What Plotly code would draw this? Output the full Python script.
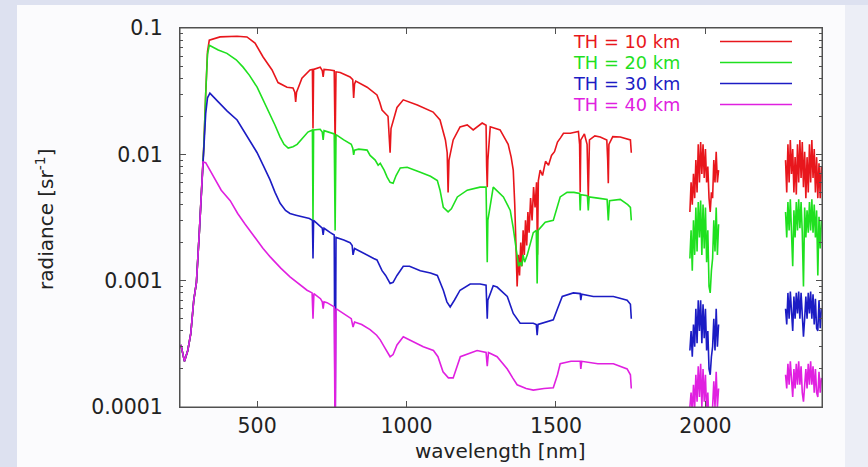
import plotly.graph_objects as go

# ---------------- data ----------------
# main segment, 10 km
red_wl = [245, 257, 268, 278, 288, 297, 307, 317, 322, 328, 334, 340, 376, 433, 466, 493, 520, 550, 570, 600,
          620, 626, 629, 632, 650, 677, 685, 687, 689, 711, 718, 721, 724, 744, 758, 761, 764, 778, 811, 820,
          823, 826, 830, 868, 901, 910, 918, 938, 942, 945, 948, 968, 989, 1036, 1089, 1112, 1130, 1136, 1139, 1142,
          1156, 1179, 1203, 1223, 1253, 1266, 1268, 1270, 1272, 1280, 1313, 1340, 1350, 1357, 1362, 1366, 1370, 1374, 1378, 1382,
          1386, 1390, 1394, 1398, 1402, 1406, 1410, 1415, 1420, 1425, 1430, 1435, 1438, 1441, 1447, 1455, 1465, 1475, 1485, 1495,
          1505, 1515, 1525, 1548, 1575, 1579, 1581, 1583, 1595, 1604, 1608, 1612, 1630, 1648, 1670, 1673, 1675, 1677, 1690, 1715,
          1740, 1749, 1752]
red_val = [0.00031, 0.00023, 0.00028, 0.00038, 0.0007, 0.00097, 0.0025, 0.0072, 0.012, 0.03, 0.065, 0.08, 0.085, 0.086, 0.085, 0.076, 0.059, 0.0465, 0.037, 0.034,
           0.0335, 0.031, 0.026, 0.031, 0.04, 0.0465, 0.047, 0.016, 0.047, 0.049, 0.046, 0.041, 0.047, 0.0465, 0.046, 0.012, 0.045, 0.0445, 0.041, 0.039,
           0.028, 0.036, 0.038, 0.034, 0.0295, 0.026, 0.0224, 0.02, 0.014, 0.0103, 0.016, 0.0235, 0.027, 0.0246, 0.0216, 0.0187, 0.013, 0.0103, 0.005, 0.009,
           0.013, 0.0165, 0.0171, 0.0156, 0.0177, 0.017, 0.008, 0.0055, 0.009, 0.0165, 0.0156, 0.012, 0.0095, 0.0075, 0.004, 0.0018, 0.0009, 0.0016, 0.0011, 0.002,
           0.0013, 0.0025, 0.0016, 0.003, 0.0019, 0.0035, 0.0024, 0.0045, 0.003, 0.0055, 0.0038, 0.006, 0.0016, 0.0062, 0.0075, 0.0068, 0.0088, 0.0082, 0.0098, 0.0105,
           0.0125, 0.0135, 0.0147, 0.0147, 0.0152, 0.012, 0.005, 0.013, 0.0145, 0.012, 0.0046, 0.013, 0.014, 0.0137, 0.013, 0.009, 0.0059, 0.012, 0.0138, 0.0137,
           0.0133, 0.013, 0.0103]

# main segment, 20 km
green_wl = [245, 257, 268, 278, 288, 297, 307, 317, 322, 328, 334, 340, 370, 399, 430, 453, 475, 500, 520, 543,
            560, 577, 590, 604, 620, 634, 654, 670, 685, 687, 689, 711, 718, 721, 724, 740, 758, 761, 764, 790,
            815, 820, 823, 826, 840, 868, 878, 895, 905, 912, 925, 935, 945, 955, 965, 979, 1002, 1046, 1080, 1103,
            1112, 1123, 1139, 1150, 1170, 1203, 1246, 1266, 1268, 1270, 1272, 1290, 1324, 1347, 1357, 1365, 1370, 1375, 1380, 1385,
            1390, 1395, 1404, 1412, 1418, 1424, 1434, 1437, 1440, 1464, 1491, 1505, 1514, 1537, 1560, 1579, 1581, 1583, 1605, 1608,
            1611, 1640, 1671, 1675, 1679, 1715, 1740, 1749, 1752]
green_val = [0.00031, 0.00023, 0.00028, 0.00038, 0.0007, 0.00097, 0.0025, 0.0072, 0.012, 0.03, 0.062, 0.073, 0.067, 0.063, 0.056, 0.049, 0.042, 0.034, 0.027, 0.021,
             0.017, 0.0137, 0.012, 0.0112, 0.0115, 0.012, 0.0137, 0.015, 0.0156, 0.003, 0.0156, 0.0158, 0.015, 0.013, 0.0154, 0.015, 0.0145, 0.0025, 0.0143, 0.013,
             0.012, 0.0112, 0.0099, 0.0108, 0.011, 0.0108, 0.0098, 0.009, 0.0082, 0.0085, 0.0075, 0.0066, 0.006, 0.0059, 0.0068, 0.0078, 0.0079, 0.0072, 0.0067, 0.0062,
             0.0052, 0.0038, 0.0035, 0.0037, 0.0046, 0.0052, 0.0055, 0.0055, 0.003, 0.0014, 0.003, 0.0055, 0.0046, 0.0036, 0.0026, 0.0019, 0.0016, 0.0013, 0.0014, 0.0013,
             0.0016, 0.0014, 0.0016, 0.0019, 0.0022, 0.0024, 0.0025, 0.00095, 0.0025, 0.0029, 0.003, 0.0038, 0.0046, 0.005, 0.005, 0.0049, 0.0036, 0.0048, 0.0047, 0.0036,
             0.0046, 0.0045, 0.0044, 0.003, 0.0043, 0.0044, 0.004, 0.0038, 0.003]

# main segment, 30 km
blue_wl = [245, 257, 268, 278, 288, 297, 307, 317, 322, 328, 334, 342, 370, 400, 433, 465, 500, 520, 543, 560,
           577, 595, 610, 630, 654, 675, 685, 687, 689, 711, 718, 721, 724, 745, 758, 761, 764, 790, 811, 818,
           821, 826, 845, 868, 890, 901, 912, 918, 930, 945, 955, 968, 989, 1010, 1046, 1080, 1103, 1115, 1123, 1135,
           1146, 1160, 1179, 1213, 1246, 1266, 1268, 1270, 1272, 1290, 1303, 1337, 1357, 1380, 1400, 1424, 1434, 1437, 1440, 1471,
           1491, 1505, 1521, 1558, 1581, 1583, 1586, 1625, 1660, 1692, 1720, 1738, 1749, 1752]
blue_val = [0.00031, 0.00023, 0.00028, 0.00038, 0.0007, 0.00097, 0.0025, 0.0072, 0.012, 0.021, 0.028, 0.0305, 0.026, 0.022, 0.0187, 0.014, 0.0103, 0.0082, 0.0063, 0.005,
            0.0041, 0.0036, 0.0034, 0.0033, 0.0032, 0.0031, 0.003, 0.0015, 0.003, 0.0027, 0.0026, 0.0023, 0.0026, 0.0024, 0.0023, 0.00005, 0.0022, 0.0021, 0.002, 0.0019,
            0.0016, 0.0018, 0.0017, 0.0016, 0.0015, 0.00146, 0.0013, 0.0012, 0.0011, 0.00095, 0.00097, 0.0011, 0.0013, 0.0013, 0.0012, 0.00115, 0.0011, 0.00095, 0.00084, 0.00068,
            0.00062, 0.0007, 0.00084, 0.00094, 0.00094, 0.00092, 0.0007, 0.0005, 0.0007, 0.00091, 0.00089, 0.00075, 0.00055, 0.00046, 0.00046, 0.00046, 0.00045, 0.00037, 0.00045, 0.00047,
            0.00049, 0.0006, 0.00075, 0.0008, 0.00079, 0.0007, 0.00078, 0.00075, 0.00075, 0.00075, 0.00072, 0.0007, 0.00065, 0.0005]

# main segment, 40 km
mag_wl = [245, 257, 268, 278, 288, 297, 307, 313, 319, 328, 340, 360, 380, 410, 435, 460, 480, 500, 520, 543,
          560, 580, 610, 640, 667, 684, 687, 690, 712, 718, 721, 724, 734, 758, 761, 764, 788, 815, 821, 826,
          850, 878, 900, 912, 925, 945, 955, 968, 989, 1010, 1056, 1090, 1105, 1122, 1140, 1156, 1170, 1180, 1236, 1266,
          1270, 1274, 1303, 1337, 1355, 1370, 1400, 1424, 1460, 1491, 1505, 1514, 1550, 1581, 1583, 1586, 1640, 1692, 1738, 1749,
          1752]
mag_val = [0.00031, 0.00023, 0.00028, 0.00038, 0.0007, 0.00097, 0.0025, 0.0055, 0.0087, 0.0086, 0.0077, 0.0063, 0.0052, 0.0043, 0.0034, 0.0028, 0.0024, 0.0021, 0.0018, 0.00155,
           0.0014, 0.00125, 0.00107, 0.00095, 0.00084, 0.0008, 0.0005, 0.00079, 0.00072, 0.00068, 0.0006, 0.00068, 0.00067, 0.00062, 0.00005, 0.0006, 0.00055, 0.0005, 0.00043, 0.00047,
           0.00045, 0.00041, 0.00037, 0.00034, 0.0003, 0.00025, 0.00026, 0.00031, 0.00036, 0.00034, 0.0003, 0.00028, 0.00025, 0.00019, 0.00017, 0.00017, 0.00021, 0.00025, 0.00028, 0.00027,
           0.00021, 0.00027, 0.00025, 0.0002, 0.00017, 0.00015, 0.00014, 0.000136, 0.00014, 0.000142, 0.00018, 0.00022, 0.00023, 0.00023, 0.0002, 0.00023, 0.00022, 0.00022, 0.0002, 0.00018,
           0.00014]

# second segment (around 2000 nm)
seg2_wl = [1948, 1952, 1956, 1960, 1964, 1968, 1972, 1976, 1980, 1984, 1988, 1992, 1996, 2000, 2004, 2008, 2012, 2016, 2020, 2024,
           2028, 2032, 2036, 2040, 2044]
red_seg2 = [0.0035, 0.006, 0.004, 0.007, 0.0045, 0.009, 0.005, 0.012, 0.006, 0.0125, 0.007, 0.012, 0.0065, 0.011, 0.006, 0.008, 0.0045, 0.0035, 0.005, 0.0045,
            0.009, 0.006, 0.0105, 0.006, 0.0075]
green_seg2 = [0.0015, 0.0025, 0.0012, 0.003, 0.0016, 0.0038, 0.0017, 0.0042, 0.0022, 0.0043, 0.0016, 0.004, 0.0018, 0.0038, 0.0014, 0.0025, 0.0009, 0.0008, 0.0012, 0.0015,
              0.003, 0.0017, 0.0038, 0.0016, 0.0028]
blue_seg2 = [0.00028, 0.0004, 0.00025, 0.00045, 0.0003, 0.0006, 0.00032, 0.0007, 0.0004, 0.0007, 0.00032, 0.00065, 0.00035, 0.0006, 0.00028, 0.0004, 0.0002, 0.00018, 0.00025, 0.0003,
             0.0005, 0.00028, 0.0006, 0.0003, 0.00045]
mag_seg2 = [0.0001, 0.00013, 0.00009, 0.00015, 0.0001, 0.00018, 0.00011, 0.00021, 0.00012, 0.00022, 0.0001, 0.0002, 0.00011, 0.00018, 0.00009, 0.00013, 0.00007, 0.00006, 0.00008, 0.0001,
            0.00016, 0.0001, 0.00019, 0.0001, 0.00014]

# third segment (2270-2390 nm)
seg3_wl = [2268, 2272, 2276, 2280, 2284, 2288, 2292, 2296, 2300, 2304, 2308, 2312, 2316, 2320, 2324, 2328, 2332, 2336, 2340, 2344,
           2348, 2352, 2356, 2360, 2364, 2368, 2372, 2376, 2380, 2384, 2388]
red_seg3 = [0.009, 0.005, 0.012, 0.006, 0.013, 0.007, 0.011, 0.005, 0.0095, 0.0048, 0.012, 0.006, 0.013, 0.0065, 0.0125, 0.0055, 0.0105, 0.0045, 0.0095, 0.005,
            0.012, 0.006, 0.013, 0.0065, 0.011, 0.005, 0.0095, 0.0045, 0.0085, 0.0045, 0.008]
green_seg3 = [0.0035, 0.0022, 0.0042, 0.0025, 0.0044, 0.0026, 0.0013, 0.0036, 0.0022, 0.0042, 0.0025, 0.0044, 0.0026, 0.0042, 0.0024, 0.0009, 0.0038, 0.0022, 0.0036, 0.0024,
              0.0042, 0.0025, 0.0044, 0.0024, 0.004, 0.0022, 0.0036, 0.0011, 0.0032, 0.0018, 0.003]
blue_seg3 = [0.0006, 0.00045, 0.0008, 0.0005, 0.00082, 0.00055, 0.0004, 0.00075, 0.0005, 0.0008, 0.00055, 0.00082, 0.0005, 0.0008, 0.00045, 0.00036, 0.0005, 0.00075, 0.0005, 0.0008,
             0.00055, 0.00082, 0.0005, 0.00078, 0.00045, 0.00072, 0.00042, 0.0004, 0.0007, 0.00042, 0.0006]
mag_seg3 = [0.00018, 0.00014, 0.00022, 0.00015, 0.00023, 0.00016, 0.00012, 0.0002, 0.00014, 0.00022, 0.00015, 0.00023, 0.00015, 0.00021, 0.00013, 0.00011, 0.00014, 0.0002, 0.00014, 0.00022,
            0.00015, 0.00023, 0.00015, 0.00021, 0.00013, 0.0002, 0.00013, 0.00012, 0.00019, 0.00013, 0.00017]

labels = ["TH = 10 km", "TH = 20 km", "TH = 30 km", "TH = 40 km"]
colors = ["#e8161c", "#1fe01f", "#1c1cc4", "#e020e0"]

x_ticks = [500, 1000, 1500, 2000]
y_ticks = [0.0001, 0.001, 0.01, 0.1]
y_ticktext = ["0.0001", "0.001", "0.01", "0.1"]
y_minor_ticks = [m * d for d in (0.0001, 0.001, 0.01) for m in range(2, 10)]

# ---------------- figure ----------------
series = [
    (red_wl, red_val, red_seg2, red_seg3),
    (green_wl, green_val, green_seg2, green_seg3),
    (blue_wl, blue_val, blue_seg2, blue_seg3),
    (mag_wl, mag_val, mag_seg2, mag_seg3),
]

fig = go.Figure()
for (wl, val, s2, s3), name, col in zip(series, labels, colors):
    xs, ys = [], []
    for a, b in zip(wl, val):
        xs.append(a); ys.append(b)
    xs.append(None); ys.append(None)
    for a, b in zip(seg2_wl, s2):
        xs.append(a); ys.append(b)
    xs.append(None); ys.append(None)
    for a, b in zip(seg3_wl, s3):
        xs.append(a); ys.append(b)
    fig.add_trace(go.Scatter(x=xs, y=ys, mode="lines", name=name,
                             line=dict(color=col, width=1.6), connectgaps=False,
                             showlegend=False, hoverinfo="skip"))

# invisible carriers so the tick-only overlay axes are drawn
fig.add_trace(go.Scatter(x=[None], y=[None], yaxis="y2", mode="lines",
                         showlegend=False, hoverinfo="skip"))
fig.add_trace(go.Scatter(x=[None], y=[None], yaxis="y3", mode="lines",
                         showlegend=False, hoverinfo="skip"))
fig.add_trace(go.Scatter(x=[None], y=[None], xaxis="x2", mode="lines",
                         showlegend=False, hoverinfo="skip"))

FONT = "DejaVu Sans"
axis_col = "#505050"
txt_col = "#222222"
edge_col = "#dde1f0"

# plot area: x 180..822 px, y 28..407 px
W, H = 868, 467
L, R, T, B = 180, 46, 28, 60
pw, ph = W - L - R, H - T - B

def px(xp):
    return (xp - L) / pw

def py(yp):
    return 1 - (yp - T) / ph

shapes = [
    dict(type="rect", xref="paper", yref="paper", layer="above",
         x0=px(0), x1=px(17), y0=py(467), y1=py(0),
         fillcolor=edge_col, line=dict(width=0)),
    dict(type="rect", xref="paper", yref="paper", layer="above",
         x0=px(17), x1=px(868), y0=py(5), y1=py(0),
         fillcolor=edge_col, line=dict(width=0)),
    dict(type="rect", xref="paper", yref="paper", layer="above",
         x0=px(845), x1=px(868), y0=py(467), y1=py(5),
         fillcolor="#eceef6", line=dict(width=0)),
    # plot frame
    dict(type="rect", xref="paper", yref="paper", layer="above",
         x0=0, x1=1, y0=0, y1=1, fillcolor="rgba(0,0,0,0)",
         line=dict(color=axis_col, width=1)),
]
annotations = []
legend_rows = [41.5, 62.5, 83.5, 104.5]
for lab, col, yr in zip(labels, colors, legend_rows):
    annotations.append(dict(xref="paper", yref="paper", x=px(571), y=py(yr),
                            text=lab, showarrow=False, xanchor="left", yanchor="middle",
                            font=dict(family=FONT, size=17.8, color=col)))
    shapes.append(dict(type="line", xref="paper", yref="paper",
                       x0=px(720), x1=px(792), y0=py(yr), y1=py(yr),
                       line=dict(color=col, width=1.6)))

annotations.append(dict(xref="paper", yref="paper", x=px(500), y=py(451),
                        text="wavelength [nm]", showarrow=False,
                        xanchor="center", yanchor="middle",
                        font=dict(family=FONT, size=20, color=txt_col)))
annotations.append(dict(xref="paper", yref="paper", x=px(45), y=py(219),
                        text="radiance [sr<sup>-1</sup>]", showarrow=False, textangle=-90,
                        xanchor="center", yanchor="middle",
                        font=dict(family=FONT, size=20, color=txt_col)))

tick_only = dict(ticks="inside", tickcolor=axis_col, tickwidth=1,
                 showticklabels=False, showline=True, linecolor=axis_col, linewidth=1,
                 mirror="ticks", showgrid=False, zeroline=False)

fig.update_layout(
    width=W, height=H,
    margin=dict(l=L, r=R, t=T, b=B, pad=0),
    paper_bgcolor="#fbfbfd",
    plot_bgcolor="white",
    showlegend=False,
    shapes=shapes,
    annotations=annotations,
    font=dict(family=FONT, size=20, color=txt_col),
    xaxis=dict(
        range=[242, 2390], tickvals=x_ticks, ticks="inside", ticklen=6,
        tickcolor=axis_col, tickwidth=1, showline=True, linecolor=axis_col, linewidth=1,
        mirror="ticks", showgrid=False, zeroline=False,
        tickfont=dict(family=FONT, size=20.5, color=txt_col),
    ),
    yaxis=dict(
        type="log", range=[-4, -1], tickvals=y_ticks, ticktext=y_ticktext,
        ticks="inside", ticklen=6, tickcolor=axis_col, tickwidth=1,
        showline=True, linecolor=axis_col, linewidth=1, mirror="ticks",
        showgrid=False, zeroline=False,
        tickfont=dict(family=FONT, size=20.5, color=txt_col),
        ticklabelstandoff=12,
    ),
    yaxis2=dict(type="log", range=[-4, -1], overlaying="y", side="left",
                tickvals=y_minor_ticks, ticklen=3, **tick_only),
    yaxis3=dict(type="log", range=[-4, -1], overlaying="y", side="left",
                tickvals=y_ticks, ticklen=6, **tick_only),
    xaxis2=dict(range=[242, 2390], overlaying="x", side="bottom",
                tickvals=x_ticks, ticklen=6, **tick_only),
)

fig.write_html("out.html",
               config={"displayModeBar": False, "staticPlot": True},
               post_script="document.body.style.margin='0px';"
                           "document.body.style.background='#fbfbfd';")
